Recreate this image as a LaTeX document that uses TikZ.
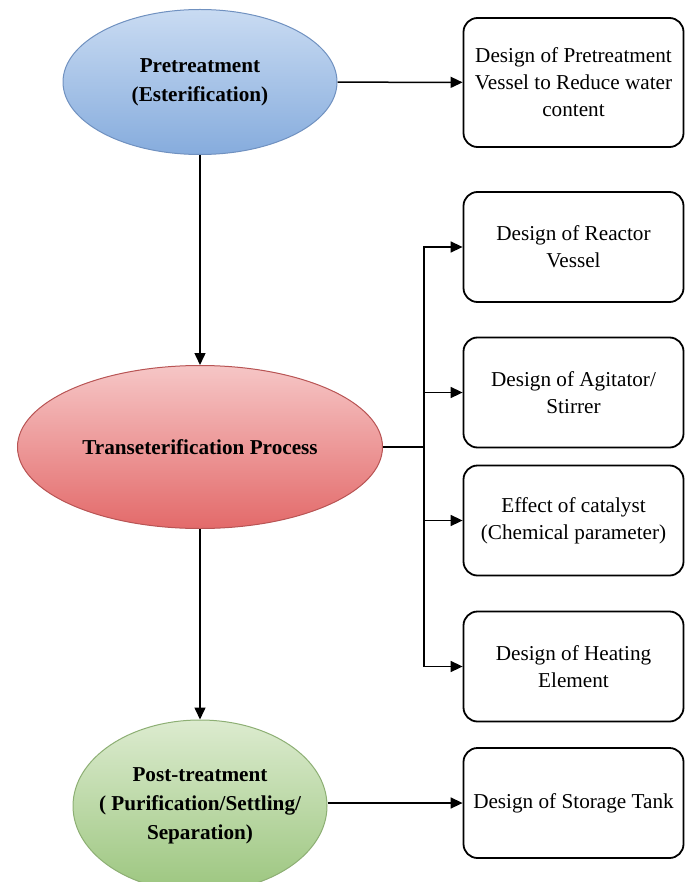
\documentclass[tikz,border=0pt]{standalone}
\usepackage{fontspec}
\setmainfont{Liberation Serif}
\usetikzlibrary{arrows.meta,shapes.geometric}
\definecolor{preTop}{HTML}{C9DBF2}
\definecolor{preBot}{HTML}{86ACDD}
\definecolor{preLine}{HTML}{7091C0}
\definecolor{traTop}{HTML}{F6C6C6}
\definecolor{traBot}{HTML}{E36A6A}
\definecolor{traLine}{HTML}{B85454}
\definecolor{postTop}{HTML}{DCEBCF}
\definecolor{postBot}{HTML}{9CC67F}
\definecolor{postLine}{HTML}{8DAF74}
\begin{document}
\begin{tikzpicture}[x=0.5pt,y=-0.5pt,
  stage/.style={ellipse,draw,line width=0.5pt,inner sep=0pt,align=center,
    font=\fontsize{10.6}{14.5}\selectfont\bfseries},
  task/.style={rectangle,draw,rounded corners=7pt,line width=0.9pt,
    minimum width=110pt,minimum height=55pt,align=center,
    font=\fontsize{10.6}{13.5}\selectfont},
  flow/.style={-{Triangle[length=6pt,width=5.5pt]},line width=0.75pt}]
\useasboundingbox (0,0) rectangle (691,882);
%
\node[stage,draw=preLine,top color=preTop,bottom color=preBot,
  minimum width=137pt,minimum height=72.5pt] (pre) at (200,82)
  {Pretreatment\\(Esterification)};
\node[task,minimum height=64.5pt] (vessel) at (573.5,82.5)
  {Design of Pretreatment\\Vessel to Reduce water\\content};
\draw[flow] (pre) -- (vessel);
%
\node[stage,draw=traLine,top color=traTop,bottom color=traBot,
  minimum width=182.5pt,minimum height=81.5pt] (trans) at (200,447)
  {Transeterification Process};
\draw[flow] (pre) -- (trans);
%
\node[task] (reactor) at (573.5,247) {Design of Reactor\\Vessel};
\node[task] (agitator) at (573.5,392.5) {Design of Agitator/\\Stirrer};
\node[task] (catalyst) at (573.5,520.5) {Effect of catalyst\\(Chemical parameter)};
\node[task] (heating) at (573.5,666.5) {Design of Heating\\Element};
%
\coordinate (bus) at (424,447);
\draw[line width=0.75pt] (trans.east) -- (bus);
\draw[flow] (bus) |- (reactor.west);
\draw[flow] (bus) |- (agitator.west);
\draw[flow] (bus) |- (catalyst.west);
\draw[flow] (bus) |- (heating.west);
%
\node[stage,draw=postLine,top color=postTop,bottom color=postBot,
  inner xsep=-6pt,minimum width=127pt,minimum height=86pt] (post) at (200,806)
  {Post-treatment\\( Purification/Settling/\\Separation)};
\draw[flow] (trans) -- (post);
\node[task] (storage) at (573.5,803) {Design of Storage Tank};
\draw[flow] (post.east |- storage.west) -- (storage.west);
\end{tikzpicture}
\end{document}
